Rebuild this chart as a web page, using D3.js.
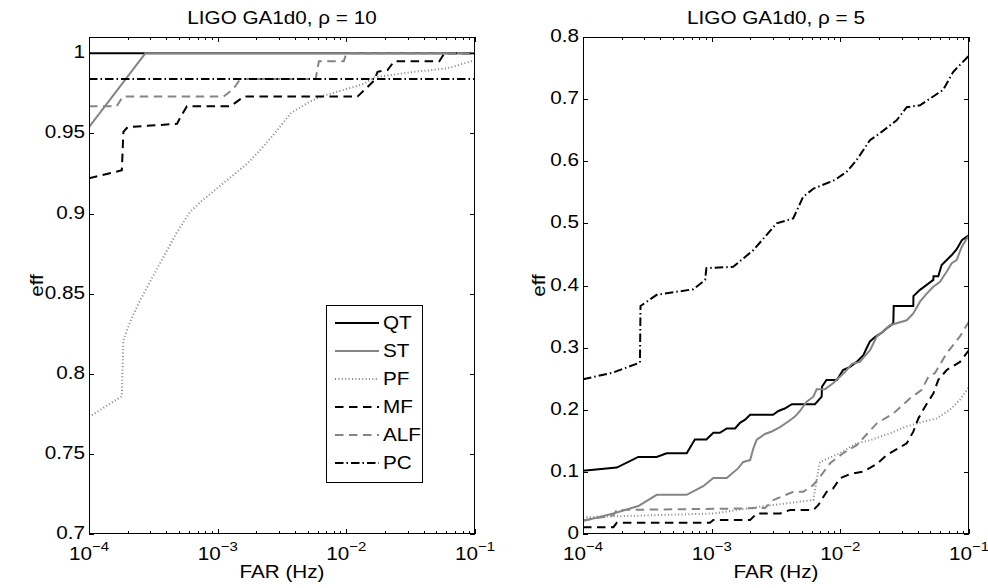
<!DOCTYPE html>
<html>
<head>
<meta charset="utf-8">
<script src="https://cdn.jsdelivr.net/npm/d3@7"></script>
<style>
  body { margin: 0; background: #fff; }
  svg text { font-family: "Liberation Sans", Arial, Helvetica, sans-serif; fill: #000; }
</style>
</head>
<body>
<svg id="chart" width="988" height="588"></svg>
<script>
// ---- series names, in drawing order ----
const seriesNames = ["QT", "ST", "PF", "MF", "ALF", "PC"];

// ---- panel 1: rho = 10, [FAR (Hz), efficiency] ----
const rho10_QT = [[1e-4, 1.0], [0.1, 1.0]];
const rho10_ST = [[1e-4, 0.954], [2.74e-4, 1.0], [0.1, 1.0]];
const rho10_PF = [[1e-4, 0.773], [1.8e-4, 0.786], [1.85e-4, 0.821], [2.1e-4, 0.833], [2.5e-4, 0.846],
  [3.1e-4, 0.860], [3.8e-4, 0.873], [4.8e-4, 0.888], [6.1e-4, 0.901], [7.3e-4, 0.907],
  [1.11e-3, 0.919], [1.69e-3, 0.931], [2.28e-3, 0.942], [2.9e-3, 0.952], [3.69e-3, 0.9625],
  [4.97e-3, 0.969], [6.3e-3, 0.973], [8.5e-3, 0.976], [1.37e-2, 0.981], [1.64e-2, 0.985],
  [3.4e-2, 0.9885], [6.1e-2, 0.9906], [0.093, 0.995], [0.1, 0.996]];
const rho10_MF = [[1e-4, 0.922], [1.8e-4, 0.927], [1.85e-4, 0.951], [2.0e-4, 0.954], [4.83e-4, 0.956],
  [5.12e-4, 0.960], [5.77e-4, 0.967], [1.26e-3, 0.967], [1.6e-3, 0.973], [1.22e-2, 0.973],
  [1.46e-2, 0.979], [1.64e-2, 0.983], [1.75e-2, 0.9885], [2.09e-2, 0.9896], [2.35e-2, 0.995],
  [5.28e-2, 0.995], [5.78e-2, 1.0], [0.1, 1.0]];
const rho10_ALF = [[1e-4, 0.967], [1.64e-4, 0.967], [1.83e-4, 0.973], [1.11e-3, 0.973], [1.33e-3, 0.978],
  [1.5e-3, 0.984], [5.77e-3, 0.984], [6.12e-3, 0.995], [9.55e-3, 0.995], [1.0e-2, 1.0], [0.1, 1.0]];
const rho10_PC = [[1e-4, 0.984], [0.1, 0.984]];

// ---- panel 2: rho = 5, [FAR (Hz), efficiency] ----
const rho5_QT = [[1e-4, 0.102], [1.83e-4, 0.107], [2.69e-4, 0.124], [3.74e-4, 0.124], [4.47e-4, 0.130],
  [6.4e-4, 0.130], [7.4e-4, 0.152], [9.1e-4, 0.152], [1.03e-3, 0.163], [1.16e-3, 0.163],
  [1.31e-3, 0.170], [1.52e-3, 0.170], [1.66e-3, 0.179], [1.82e-3, 0.184], [1.99e-3, 0.192],
  [3.0e-3, 0.192], [3.3e-3, 0.198], [3.7e-3, 0.202], [4.2e-3, 0.209], [6.35e-3, 0.209],
  [7.16e-3, 0.221], [7.2e-3, 0.237], [7.8e-3, 0.248], [9.4e-3, 0.248], [1.05e-2, 0.264],
  [1.19e-2, 0.269], [1.34e-2, 0.277], [1.51e-2, 0.288], [1.6e-2, 0.299], [1.7e-2, 0.31],
  [1.86e-2, 0.317], [2.1e-2, 0.324], [2.29e-2, 0.331], [2.58e-2, 0.339], [2.6e-2, 0.367],
  [3.69e-2, 0.367], [3.7e-2, 0.383], [4.16e-2, 0.393], [4.69e-2, 0.401], [5.28e-2, 0.409],
  [5.3e-2, 0.415], [5.77e-2, 0.415], [6.13e-2, 0.433], [6.71e-2, 0.441], [7.34e-2, 0.449],
  [8.0e-2, 0.458], [8.8e-2, 0.473], [0.1, 0.481]];
const rho5_ST = [[1e-4, 0.021], [1.72e-4, 0.033], [2.69e-4, 0.045], [3.74e-4, 0.063], [6.4e-4, 0.063],
  [8.6e-4, 0.077], [1.03e-3, 0.09], [1.31e-3, 0.09], [1.61e-3, 0.106], [1.76e-3, 0.116],
  [1.99e-3, 0.119], [2.11e-3, 0.138], [2.24e-3, 0.152], [2.6e-3, 0.161], [2.93e-3, 0.165],
  [3.4e-3, 0.172], [3.94e-3, 0.181], [4.44e-3, 0.189], [4.86e-3, 0.198], [5.48e-3, 0.213],
  [6.17e-3, 0.221], [6.55e-3, 0.233], [7.6e-3, 0.233], [8.82e-3, 0.243], [9.93e-3, 0.253],
  [1.09e-2, 0.261], [1.23e-2, 0.274], [1.42e-2, 0.277], [1.56e-2, 0.287], [1.7e-2, 0.296],
  [1.92e-2, 0.318], [2.22e-2, 0.328], [2.43e-2, 0.336], [3.28e-2, 0.344], [3.69e-2, 0.355],
  [4.16e-2, 0.374], [4.69e-2, 0.387], [5.28e-2, 0.398], [5.96e-2, 0.406], [6.31e-2, 0.414],
  [6.71e-2, 0.422], [7.34e-2, 0.436], [8.02e-2, 0.441], [8.77e-2, 0.462], [0.1, 0.481]];
const rho5_PF = [[1e-4, 0.027], [1.03e-3, 0.033], [1.5e-3, 0.038], [2.38e-3, 0.044], [6.17e-3, 0.0547],
  [6.75e-3, 0.103], [6.95e-3, 0.116], [9.93e-3, 0.13], [1.34e-2, 0.146], [1.7e-2, 0.151],
  [2.43e-2, 0.162], [3.28e-2, 0.173], [4.42e-2, 0.181], [5.61e-2, 0.186], [7.11e-2, 0.2],
  [8.51e-2, 0.216], [0.1, 0.237]];
const rho5_MF = [[1e-4, 0.011], [1.72e-4, 0.011], [1.83e-4, 0.018], [9.7e-4, 0.018], [1.03e-3, 0.0225],
  [1.99e-3, 0.0225], [2.24e-3, 0.033], [3.4e-3, 0.033], [4.06e-3, 0.0386], [6.17e-3, 0.0386],
  [6.75e-3, 0.0467], [7.83e-3, 0.068], [8.82e-3, 0.0735], [9.93e-3, 0.0896], [1.19e-2, 0.0966],
  [1.51e-2, 0.1003], [1.92e-2, 0.1127], [2.29e-2, 0.127], [3.28e-2, 0.146], [3.69e-2, 0.1647],
  [4.04e-2, 0.186], [4.55e-2, 0.205], [5.28e-2, 0.226], [5.77e-2, 0.248], [6.71e-2, 0.264],
  [8.51e-2, 0.277], [0.1, 0.296]];
const rho5_ALF = [[1e-4, 0.022], [1.72e-4, 0.03], [1.83e-4, 0.0386], [1.57e-3, 0.041], [2.6e-3, 0.042],
  [3.01e-3, 0.0547], [4.31e-3, 0.068], [5.15e-3, 0.068], [6.17e-3, 0.079], [6.95e-3, 0.092],
  [8.32e-3, 0.114], [1.05e-2, 0.13], [1.34e-2, 0.143], [1.92e-2, 0.178], [2.58e-2, 0.194],
  [3.47e-2, 0.218], [4.29e-2, 0.232], [4.83e-2, 0.253], [5.44e-2, 0.259], [6.71e-2, 0.291],
  [8.51e-2, 0.318], [0.1, 0.342]];
const rho5_PC = [[1e-4, 0.249], [1.72e-4, 0.26], [2.77e-4, 0.276], [2.8e-4, 0.367], [3.74e-4, 0.385],
  [7.2e-4, 0.394], [8.9e-4, 0.409], [9.1e-4, 0.428], [1.47e-3, 0.43], [2.11e-3, 0.457],
  [3.2e-3, 0.5], [4.3e-3, 0.508], [5.15e-3, 0.543], [6.2e-3, 0.556], [9.1e-3, 0.57],
  [1.12e-2, 0.583], [1.34e-2, 0.602], [1.7e-2, 0.634], [2.03e-2, 0.645], [2.74e-2, 0.666],
  [3.28e-2, 0.687], [4.16e-2, 0.69], [6.3e-2, 0.715], [7.55e-2, 0.744], [0.1, 0.77]];

// ---- axis ticks ----
const xMajorTicks = [1e-4, 1e-3, 1e-2, 1e-1];
const xTickExponents = ["−4", "−3", "−2", "−1"];
const rho10_yTicks = [0.7, 0.75, 0.8, 0.85, 0.9, 0.95, 1];
const rho10_yTickLabels = ["0.7", "0.75", "0.8", "0.85", "0.9", "0.95", "1"];
const rho5_yTicks = [0, 0.1, 0.2, 0.3, 0.4, 0.5, 0.6, 0.7, 0.8];
const rho5_yTickLabels = ["0", "0.1", "0.2", "0.3", "0.4", "0.5", "0.6", "0.7", "0.8"];

// ---- line styles ----
const gray = "#858585";
const styles = {
  QT:  { color: "#000", dash: null,          width: 2 },
  ST:  { color: gray,   dash: null,          width: 2 },
  PF:  { color: gray,   dash: "1,2.4",       width: 2 },
  MF:  { color: "#000", dash: "8.5,5.5",     width: 2 },
  ALF: { color: gray,   dash: "8.5,5.5",     width: 2 },
  PC:  { color: "#000", dash: "8.5,3,1.5,3", width: 2 }
};

const svg = d3.select("#chart");
const plotTop = 37, plotBottom = 534;

const panels = [
  { left: 89, right: 475, title: "LIGO GA1d0, ρ = 10", yDomain: [0.7, 1.0102],
    yTicks: rho10_yTicks, yLabels: rho10_yTickLabels, legend: true, yLabelOffset: 46,
    data: { QT: rho10_QT, ST: rho10_ST, PF: rho10_PF, MF: rho10_MF, ALF: rho10_ALF, PC: rho10_PC } },
  { left: 583, right: 969, title: "LIGO GA1d0, ρ = 5", yDomain: [0, 0.8],
    yTicks: rho5_yTicks, yLabels: rho5_yTickLabels, legend: false, yLabelOffset: 38,
    data: { QT: rho5_QT, ST: rho5_ST, PF: rho5_PF, MF: rho5_MF, ALF: rho5_ALF, PC: rho5_PC } }
];

// text is set in a slightly wide face: a horizontal stretch on Liberation Sans
const fontSize = 18, supSize = 13, stretch = 1.15;

function label(parent, x, y, str, anchor, extra) {
  return parent.append("text")
    .attr("transform", `translate(${x},${y})${extra || ""} scale(${stretch},1)`)
    .attr("text-anchor", anchor)
    .attr("font-size", fontSize)
    .text(str);
}

panels.forEach((p, i) => {
  const x = d3.scaleLog().domain([1e-4, 1e-1]).range([p.left, p.right]);
  const y = d3.scaleLinear().domain(p.yDomain).range([plotBottom, plotTop]);
  const g = svg.append("g");

  const clipId = "clip" + i;
  svg.append("clipPath").attr("id", clipId).append("rect")
    .attr("x", p.left).attr("y", plotTop).attr("width", p.right - p.left).attr("height", plotBottom - plotTop);

  // series
  const line = d3.line().x(d => x(d[0])).y(d => y(d[1]));
  const lines = g.append("g").attr("clip-path", `url(#${clipId})`);
  seriesNames.forEach(name => {
    const s = styles[name];
    lines.append("path")
      .datum(p.data[name])
      .attr("d", line)
      .attr("fill", "none")
      .attr("stroke", s.color)
      .attr("stroke-width", s.width)
      .attr("stroke-dasharray", s.dash)
      .attr("stroke-linejoin", "miter");
  });

  // x ticks: majors at decades, minors at 2..9
  const minor = [];
  for (let e = -4; e < -1; e++) for (let k = 2; k <= 9; k++) minor.push(k * Math.pow(10, e));
  const ticks = g.append("g").attr("stroke", "#000").attr("stroke-width", 1);
  minor.forEach(v => {
    const xv = Math.round(x(v)) + 0.5;
    ticks.append("line").attr("x1", xv).attr("x2", xv).attr("y1", plotBottom).attr("y2", plotBottom - 3);
    ticks.append("line").attr("x1", xv).attr("x2", xv).attr("y1", plotTop).attr("y2", plotTop + 3);
  });
  xMajorTicks.forEach(v => {
    const xv = Math.round(x(v)) + 0.5;
    ticks.append("line").attr("x1", xv).attr("x2", xv).attr("y1", plotBottom).attr("y2", plotBottom - 5);
    ticks.append("line").attr("x1", xv).attr("x2", xv).attr("y1", plotTop).attr("y2", plotTop + 5);
  });
  p.yTicks.forEach(v => {
    const yv = Math.round(y(v)) + 0.5;
    ticks.append("line").attr("x1", p.left).attr("x2", p.left + 5).attr("y1", yv).attr("y2", yv);
    ticks.append("line").attr("x1", p.right).attr("x2", p.right - 5).attr("y1", yv).attr("y2", yv);
  });

  // axes box
  g.append("rect")
    .attr("x", p.left + 0.5).attr("y", plotTop + 0.5)
    .attr("width", p.right - p.left - 1).attr("height", plotBottom - plotTop - 1)
    .attr("fill", "none").attr("stroke", "#000").attr("stroke-width", 1);

  // x tick labels: 10 with superscript exponent
  xMajorTicks.forEach((v, k) => {
    const t = label(g, x(v), 560, "", "middle");
    t.append("tspan").text("10");
    t.append("tspan").attr("dy", -9).attr("font-size", supSize).text(xTickExponents[k]);
  });

  // y tick labels
  p.yTicks.forEach((v, k) => {
    label(g, p.left - 4, y(v), p.yLabels[k], "end").attr("dy", "0.28em");
  });

  // titles and axis labels
  label(g, (p.left + p.right) / 2, 24, p.title, "middle");
  label(g, (p.left + p.right) / 2, 578, "FAR (Hz)", "middle");
  label(g, p.left - p.yLabelOffset, (plotTop + plotBottom) / 2, "eff", "middle", " rotate(-90)");

  // legend
  if (p.legend) {
    const lx = 326, ly = 305, lw = 96, lh = 177;
    const lg = g.append("g");
    lg.append("rect").attr("x", lx + 0.5).attr("y", ly + 0.5).attr("width", lw).attr("height", lh)
      .attr("fill", "#fff").attr("stroke", "#000").attr("stroke-width", 1);
    seriesNames.forEach((name, k) => {
      const s = styles[name];
      const yy = ly + 18 + k * 28;
      lg.append("line")
        .attr("x1", lx + 9).attr("x2", lx + 53).attr("y1", yy).attr("y2", yy)
        .attr("stroke", s.color).attr("stroke-width", s.width)
        .attr("stroke-dasharray", s.dash);
      label(lg, lx + 57, yy, name, "start").attr("dy", "0.36em");
    });
  }
});
</script>
</body>
</html>
